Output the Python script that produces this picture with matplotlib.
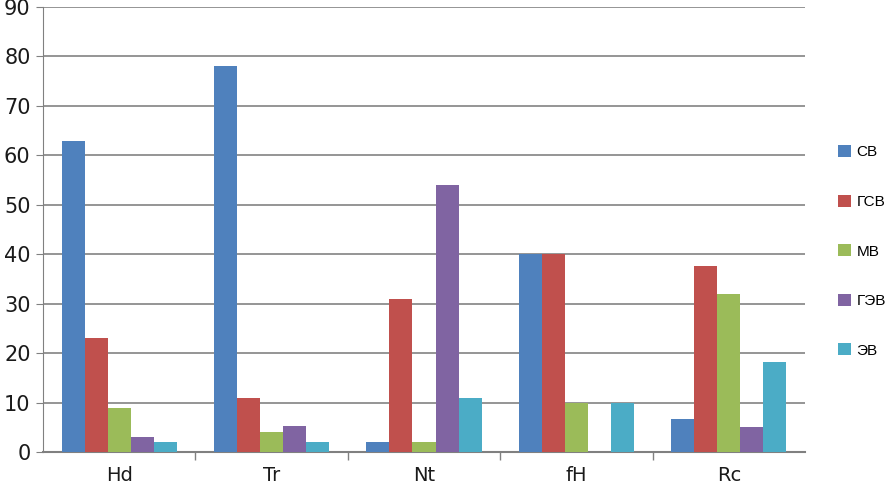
import matplotlib
matplotlib.use('Agg')
import matplotlib.pyplot as plt
import numpy as np

categories = ['Hd', 'Tr', 'Nt', 'fH', 'Rc']
series_names = ['СВ', 'ГСВ', 'МВ', 'ГЭВ', 'ЭВ']
sv = [63, 78, 2, 40, 6.7]
gsv = [23, 11, 31, 40, 37.7]
mv = [9, 4, 2, 10, 32]
gev = [3, 5.2, 54, 0, 5.1]
ev = [2, 2, 11, 10, 18.2]
yticks = list(range(0, 100, 10))

colors = ['#4F81BD', '#C0504D', '#9BBB59', '#8064A2', '#4BACC6']


def main():
    fig = plt.figure(figsize=(8.9, 4.97), dpi=100)
    ax = fig.add_axes([43 / 890, 45 / 497, 762 / 890, 445 / 497])
    data = [sv, gsv, mv, gev, ev]
    x = np.arange(len(categories))
    w = 0.151
    for i, vals in enumerate(data):
        ax.bar(x + (i - 2) * w, vals, width=w, color=colors[i], label=series_names[i], zorder=3)

    ax.set_xlim(-0.5, len(categories) - 0.5)
    ax.set_ylim(0, 90)
    ax.set_yticks(yticks)
    ax.set_yticklabels([str(t) for t in yticks], fontsize=15, color='#1a1a1a')
    ax.set_xticks(x)
    ax.set_xticklabels(categories, fontsize=14, color='#1a1a1a')
    ax.tick_params(axis='x', length=0, pad=10)
    ax.tick_params(axis='y', length=5, color='#808080', pad=4)
    # boundary ticks between categories
    ax.set_xticks(np.arange(0.5, len(categories) - 1, 1.0), minor=True)
    ax.tick_params(axis='x', which='minor', length=6, color='#808080', width=1)

    ax.grid(axis='y', color='#8c8c8c', linewidth=1.3, zorder=0)
    for s in ['top', 'right']:
        ax.spines[s].set_visible(False)
    ax.spines['left'].set_color('#808080')
    ax.spines['bottom'].set_color('#808080')
    ax.spines['bottom'].set_linewidth(1.5)

    ax.legend(loc='upper left', bbox_to_anchor=(832 / 890, 358 / 497), bbox_transform=fig.transFigure,
              frameon=False, prop={'family': 'Liberation Sans', 'size': 11},
              handlelength=0.85, handleheight=0.85, labelspacing=2.3,
              handletextpad=0.35, borderaxespad=0)
    fig.savefig('out.png', dpi=100)


main()
